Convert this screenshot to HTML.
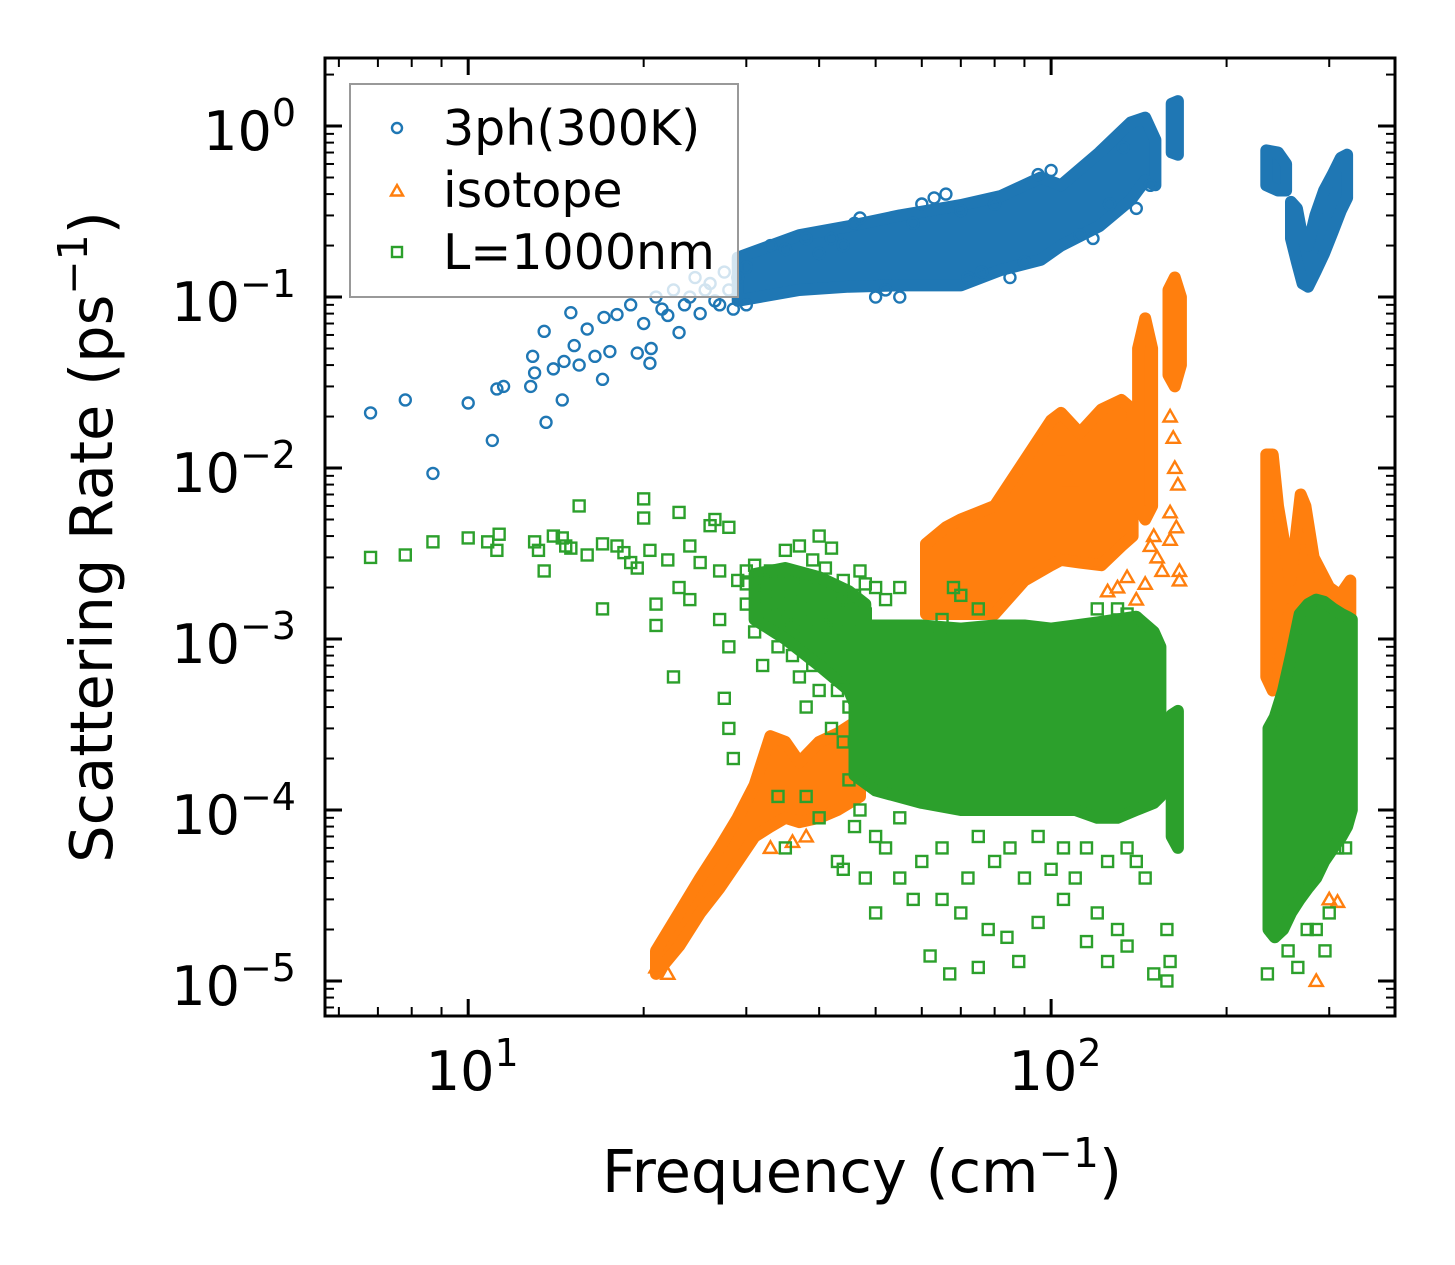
<!DOCTYPE html>
<html><head><meta charset="utf-8"><style>
html,body{margin:0;padding:0;background:#fff;}
svg{display:block;font-family:"DejaVu Sans","Liberation Sans",sans-serif;}
</style></head><body>
<svg id="chart" width="1455" height="1265" viewBox="0 0 1455 1265" xmlns="http://www.w3.org/2000/svg">
<rect width="1455" height="1265" fill="#fff"/>
<g id="marks"></g>
<g id="axes"></g>
<g id="legend"></g>
</svg>
<script>
// ---- data (frequency cm^-1, rate ps^-1) ----
const xTicks = [10, 100];
const xTickLabels = ["1", "2"];
const yTicks = [1, 0.1, 0.01, 0.001, 0.0001, 0.00001];
const yTickLabels = ["0", "\u22121", "\u22122", "\u22123", "\u22124", "\u22125"];
const seriesNames = ["3ph(300K)", "isotope", "L=1000nm"];

// dense-region envelopes: [freq, low, high]
const blueBandMain = [[29,0.095,0.17],[37,0.11,0.23],[45,0.115,0.26],[55,0.117,0.3],[70,0.117,0.345],[82,0.144,0.39],[96,0.165,0.5],[104,0.2,0.45],[121,0.26,0.7],[137,0.37,1.05],[145,0.48,1.12],[151,0.45,0.83]];
const blueBandTail = [[161,0.7,1.35],[165,0.68,1.4]];
const blueBandRight1 = [[234,0.45,0.72],[245,0.42,0.7],[253,0.42,0.6]];
const blueBandV = [[258,0.22,0.36],[264,0.16,0.33],[270,0.12,0.22],[276,0.115,0.2],[284,0.14,0.3],[294,0.18,0.42],[304,0.24,0.52],[314,0.32,0.65],[322,0.38,0.68]];
const orangeBandLow = [[21,1.1e-5,1.5e-5],[23,1.6e-5,2.5e-5],[25,2.5e-5,4e-5],[27,3.5e-5,6e-5],[29,5e-5,9e-5],[31,7e-5,1.4e-4],[33,8e-5,2.7e-4],[35,9e-5,2.5e-4],[37,8.5e-5,1.9e-4],[40,9e-5,2.5e-4],[43,1e-4,2.8e-4],[47,1.2e-4,3.4e-4]];
const orangeBandMid = [[61,1.4e-3,3.6e-3],[66,1.4e-3,4.5e-3],[70,1.4e-3,5e-3],[80,1.4e-3,6e-3],[90,2.2e-3,1.1e-2],[100,2.7e-3,1.9e-2],[104,2.9e-3,2.1e-2],[112,2.8e-3,1.6e-2],[122,2.7e-3,2.2e-2],[132,3.5e-3,2.5e-2],[138,4e-3,2.2e-2]];
const orangeSpikeA = [[141,6e-3,5e-2],[145,5e-3,7.5e-2],[149,6e-3,5e-2]];
const orangeSpikeB = [[159,3.5e-2,1.1e-1],[163,3e-2,1.3e-1],[167,4e-2,1e-1]];
const orangeBandRight = [[234,6e-4,1.2e-2],[240,5e-4,1.2e-2],[245,6e-4,6e-3],[250,1e-3,4e-3],[257,1.5e-3,2.2e-3],[263,1.5e-3,4e-3],[268,1e-3,7e-3],[273,8e-4,6e-3],[282,6e-4,3e-3],[300,5e-4,2e-3],[313,4e-4,1.8e-3],[326,3e-4,2.2e-3]];
const greenBandLeft = [[31,1.3e-3,2.4e-3],[35,1e-3,2.6e-3],[40,7e-4,2.3e-3],[45,5e-4,1.9e-3],[48,3e-4,1.6e-3]];
const greenBandMain = [[46,1.6e-4,1.2e-3],[50,1.3e-4,1.2e-3],[60,1.1e-4,1.2e-3],[70,1e-4,1.15e-3],[80,1e-4,1.2e-3],[90,1e-4,1.2e-3],[100,1e-4,1.15e-3],[110,1e-4,1.2e-3],[120,9e-5,1.25e-3],[130,9e-5,1.3e-3],[140,1e-4,1.35e-3],[150,1.1e-4,1.1e-3],[154,1.2e-4,9e-4]];
const greenBandTail = [[161,7e-5,3.6e-4],[165,6e-5,3.8e-4]];
const greenBandRight = [[236,2e-5,3e-4],[242,1.8e-5,3.5e-4],[250,2e-5,5e-4],[258,2.5e-5,8e-4],[267,3e-5,1.4e-3],[276,3.5e-5,1.6e-3],[285,4e-5,1.7e-3],[294,5e-5,1.65e-3],[305,6e-5,1.5e-3],[315,7e-5,1.4e-3],[322,8e-5,1.35e-3],[328,1e-4,1.3e-3]];

// individual scatter points
const bluePoints = [[6.8,0.021],[7.8,0.025],[8.7,0.0093],[10,0.024],[11,0.0145],[11.2,0.029],[11.5,0.03],[12.8,0.03],[12.9,0.045],[13,0.036],[13.5,0.063],[13.6,0.0185],[14,0.038],[14.5,0.025],[14.6,0.042],[15,0.081],[15.2,0.052],[15.5,0.04],[16,0.065],[16.5,0.045],[17,0.033],[17.1,0.076],[17.5,0.048],[18,0.079],[19,0.09],[19.5,0.047],[20,0.07],[20.5,0.041],[20.6,0.05],[21,0.1],[21.5,0.085],[22,0.078],[22.5,0.11],[23,0.062],[23.5,0.09],[24,0.1],[24.5,0.13],[25,0.08],[25.5,0.11],[26,0.12],[26.5,0.095],[27,0.09],[27.5,0.14],[28,0.11],[28.5,0.085],[29,0.13],[30,0.09],[30,0.15],[33,0.2],[35,0.19],[38,0.22],[40,0.18],[42,0.22],[44,0.2],[46,0.27],[47,0.29],[50,0.1],[52,0.11],[55,0.1],[58,0.27],[60,0.35],[63,0.38],[66,0.4],[70,0.32],[72,0.13],[76,0.14],[80,0.35],[85,0.13],[90,0.16],[95,0.52],[100,0.55],[112,0.23],[118,0.22],[126,0.35],[133,0.75],[140,0.33],[148,0.45]];
const orangePoints = [[21,1.2e-5],[22,1.1e-5],[33,6e-5],[36,6.5e-5],[38,7e-5],[104,1.25e-2],[108,8.5e-3],[120,2.8e-3],[125,1.9e-3],[130,2e-3],[135,2.3e-3],[140,1.7e-3],[145,2.1e-3],[148,3.5e-3],[150,4e-3],[152,3e-3],[155,2.5e-3],[160,2e-2],[162,1.5e-2],[163,1e-2],[165,8e-3],[160,5.5e-3],[164,4.5e-3],[160,3.8e-3],[166,2.5e-3],[166,2.2e-3],[300,3e-5],[285,1e-5],[310,2.9e-5]];
const greenPoints = [[6.8,0.003],[7.8,0.0031],[8.7,0.0037],[10,0.0039],[10.8,0.0037],[11.3,0.0041],[11.2,0.0033],[13,0.0037],[13.2,0.0033],[13.5,0.0025],[14,0.004],[14.5,0.0039],[14.7,0.0035],[15.5,0.006],[15,0.0034],[16,0.0031],[17,0.0036],[17,0.0015],[18,0.0035],[18.5,0.0032],[19,0.0028],[19.5,0.0026],[20,0.0066],[20,0.0051],[20.5,0.0033],[21,0.0016],[21,0.0012],[22,0.0029],[22.5,0.0006],[23,0.0055],[23,0.002],[24,0.0035],[24,0.0017],[25,0.0028],[26,0.0046],[26.5,0.005],[27,0.0025],[27,0.0013],[27.5,0.00045],[28,0.0045],[28,0.0009],[28,0.0003],[28.5,0.0002],[29,0.0022],[30,0.0016],[30,0.0021],[31,0.0011],[31,0.0027],[32,0.0018],[32,0.0007],[33,0.0014],[33,0.0025],[34,0.0009],[34,0.0021],[35,0.0033],[35,0.0013],[36,0.0017],[36,0.0008],[37,0.0035],[37,0.0006],[38,0.0023],[38,0.0011],[39,0.0015],[39,0.0007],[40,0.004],[40,0.0019],[41,0.0026],[41,0.0012],[42,0.0034],[42,0.0008],[43,0.0016],[44,0.0022],[44,0.0006],[45,0.0011],[46,0.0018],[47,0.0025],[48,0.0014],[50,0.002],[52,0.0017],[55,0.002],[30,0.0025],[32,0.0022],[34,0.0016],[36,0.0012],[38,0.0018],[40,0.0009],[42,0.0013],[44,0.0017],[46,0.0008],[48,0.0021],[36,0.0024],[39,0.0029],[43,0.0005],[45,0.0004],[48,0.0006],[42,0.0003],[44,0.00025],[40,0.0005],[38,0.0004],[45,0.00015],[47,0.0001],[34,0.00012],[35,0.00006],[38,0.00012],[40,0.00009],[43,0.00005],[44,0.000045],[46,0.00008],[48,0.00004],[50,0.000025],[52,0.00006],[55,0.00004],[58,0.00003],[60,0.00005],[62,0.000014],[65,0.00003],[67,0.000011],[70,0.000025],[72,0.00004],[75,0.000012],[78,0.00002],[80,0.00005],[84,0.000018],[88,0.000013],[90,0.00004],[95,0.000022],[100,0.000045],[105,0.00003],[110,0.00004],[115,0.000017],[120,0.000025],[125,0.000013],[130,0.00002],[135,0.000016],[140,0.00005],[150,0.000011],[158,0.00002],[158,0.00001],[160,0.000013],[145,0.00004],[65,0.00006],[75,0.00007],[85,0.00006],[95,0.00007],[55,0.00009],[50,0.00007],[105,0.00006],[115,0.00006],[125,0.00005],[135,0.00006],[70,0.0018],[68,0.002],[65,0.0013],[75,0.0015],[120,0.0015],[130,0.0015],[135,0.0014],[235,0.000011],[240,0.00002],[255,0.000015],[265,0.000012],[275,0.00002],[285,0.00002],[295,0.000015],[300,0.000025],[310,0.00006],[320,0.00006]];

// ---- scales ----
const PL=325, PR=1395, PT=58, PB=1016;
const XLO=Math.log10(5.68), XHI=Math.log10(389);
const YLO=Math.log10(0.00000624), YHI=Math.log10(2.5);
function sx(v){return PL+(Math.log10(v)-XLO)/(XHI-XLO)*(PR-PL);}
function sy(v){return PB-(Math.log10(v)-YLO)/(YHI-YLO)*(PB-PT);}

const NS="http://www.w3.org/2000/svg";
function mk(tag,attrs,parent){const e=document.createElementNS(NS,tag);for(const k in attrs)e.setAttribute(k,attrs[k]);parent.appendChild(e);return e;}
const marks=document.getElementById('marks');
const axes=document.getElementById('axes');
const legend=document.getElementById('legend');
const C=["#1f77b4","#ff7f0e","#2ca02c"];

const clip=mk('clipPath',{id:'pc'},document.getElementById('chart'));
mk('rect',{x:PL,y:PT,width:PR-PL,height:PB-PT},clip);
marks.setAttribute('clip-path','url(#pc)');

function band(data,color,name){
  const top=data.map(d=>sx(d[0]).toFixed(1)+','+sy(d[2]).toFixed(1));
  const bot=data.slice().reverse().map(d=>sx(d[0]).toFixed(1)+','+sy(d[1]).toFixed(1));
  const p=mk('polygon',{points:top.concat(bot).join(' '),fill:color,stroke:color,'stroke-width':12,'stroke-linejoin':'round'},marks);
  
  
}
function marker(kind,x,y,color,parent,s){
  let e;
  if(kind===0){e=mk('circle',{cx:x,cy:y,r:s,fill:'none',stroke:color,'stroke-width':2.4},parent);}
  else if(kind===1){const h=s*1.2;e=mk('polygon',{points:`${x},${y-h} ${x+h},${y+h*0.75} ${x-h},${y+h*0.75}`,fill:'none',stroke:color,'stroke-width':2.4},parent);}
  else {e=mk('rect',{x:x-s,y:y-s,width:2*s,height:2*s,fill:'none',stroke:color,'stroke-width':2.4},parent);}
  return e;
}
function points(data,kind,color,name){
  const g=mk('g',{},marks);
  
  
  data.forEach(d=>{const e=marker(kind,sx(d[0]),sy(d[1]),color,g,5.5);
    
    });
}
// blue
[blueBandMain,blueBandTail,blueBandRight1,blueBandV].forEach(b=>band(b,C[0],'3ph-dense-region'));
points(bluePoints,0,C[0],'3ph-points');
// orange
[orangeBandLow,orangeBandMid,orangeSpikeA,orangeSpikeB,orangeBandRight].forEach(b=>band(b,C[1],'isotope-dense-region'));
points(orangePoints,1,C[1],'isotope-points');
// green
[greenBandLeft,greenBandMain,greenBandTail,greenBandRight].forEach(b=>band(b,C[2],'boundary-dense-region'));
points(greenPoints,2,C[2],'boundary-points');

// ---- axes ----
const frame=mk('rect',{x:PL,y:PT,width:PR-PL,height:PB-PT,fill:'none',stroke:'#000','stroke-width':3},axes);


function tick(x1,y1,x2,y2,w){mk('line',{x1,y1,x2,y2,stroke:'#000','stroke-width':w},axes);}
for(let d=0; d<=3; d++){
  for(let m=1;m<=9;m++){
    const v=m*Math.pow(10,d); const x=sx(v);
    if(x<PL||x>PR) continue;
    const L=(m===1)?17:9, w=(m===1)?3:2;
    tick(x,PB,x,PB-L,w); tick(x,PT,x,PT+L,w);
  }
}
for(let d=-6; d<=0; d++){
  for(let m=1;m<=9;m++){
    const v=m*Math.pow(10,d); const y=sy(v);
    if(y<PT||y>PB) continue;
    const L=(m===1)?17:9, w=(m===1)?3:2;
    tick(PL,y,PL+L,y,w); tick(PR,y,PR-L,y,w);
  }
}
xTicks.forEach((v,i)=>{
  const t=mk('text',{x:sx(v)+4,y:1090,'font-size':54,'text-anchor':'middle',fill:'#000'},axes);
  
  
  t.innerHTML='10<tspan font-size="38" dy="-24">'+xTickLabels[i]+'</tspan>';
});
yTicks.forEach((v,i)=>{
  const t=mk('text',{x:296,y:sy(v)+24,'font-size':54,'text-anchor':'end',fill:'#000'},axes);
  
  
  t.innerHTML='10<tspan font-size="38" dy="-24">'+yTickLabels[i]+'</tspan>';
});
const xl=mk('text',{x:862,y:1192,'font-size':59,'text-anchor':'middle',fill:'#000'},axes);


xl.innerHTML='Frequency (cm<tspan font-size="41" dy="-25">\u22121</tspan><tspan dy="25">)</tspan>';
const yl=mk('text',{x:0,y:0,'font-size':59,'text-anchor':'middle',fill:'#000',transform:'translate(112,537) rotate(-90)'},axes);


yl.innerHTML='Scattering Rate (ps<tspan font-size="41" dy="-25">\u22121</tspan><tspan dy="25">)</tspan>';

// ---- legend ----
const lb=mk('rect',{x:350,y:84,width:388,height:213,fill:'#fff','fill-opacity':0.8,stroke:'#999','stroke-width':2},legend);


seriesNames.forEach((n,i)=>{
  const g=mk('g',{},legend);
  
  
  const y=128+i*62;
  marker(i,397,y+(i===1?1:0),C[i],g,5);
  const t=mk('text',{x:443,y:y+17,'font-size':49,fill:'#000'},g);
  t.textContent=n;
});
</script>
</body></html>
